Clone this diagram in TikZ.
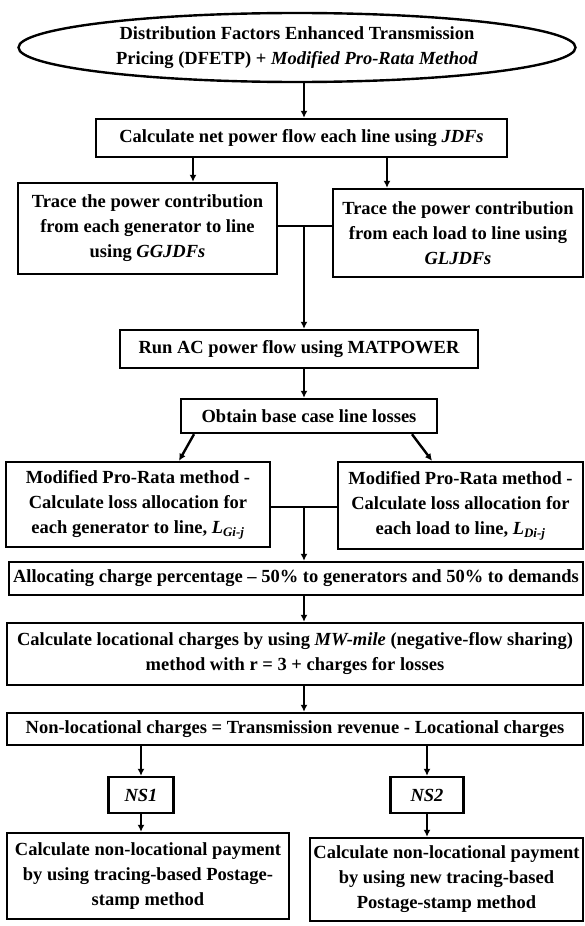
\documentclass[tikz,border=0pt]{standalone}
\usepackage{fontspec}
\setmainfont{Liberation Serif}
\usetikzlibrary{shapes.geometric,arrows.meta}
\begin{document}
\begin{tikzpicture}[x=1pt,y=-1pt,
  every node/.style={font=\fontsize{18.5}{25}\selectfont\bfseries, inner sep=0pt, align=center},
  bx/.style={draw, line width=2.4pt, rectangle},
  ln/.style={line width=2.4pt},
  arr/.style={line width=2.4pt, -{Latex[length=7pt,width=7pt]}}]
\useasboundingbox (0,0) rectangle (585,926);
% nodes
\node[draw, line width=2.4pt, ellipse, minimum width=557pt, minimum height=69pt] (ell) at (297,47.5)
  {Distribution Factors Enhanced Transmission\\ Pricing (DFETP) + \textit{Modified Pro-Rata Method}};
\node[bx, minimum width=411pt, minimum height=38pt] (box1) at (301.5,138) {Calculate net power flow each line using \textit{JDFs}};
\node[bx, minimum width=259pt, minimum height=91pt] (trL) at (147.5,228.5) {Trace the power contribution\\ from each generator to line\\ using \textit{GGJDFs}};
\node[bx, minimum width=250pt, minimum height=88pt] (trR) at (458,233) {Trace the power contribution\\ from each load to line using\\ \textit{GLJDFs}};
\node[bx, minimum width=358pt, minimum height=38pt] (runac) at (299,349) {Run AC power flow using MATPOWER};
\node[bx, minimum width=256pt, minimum height=34pt] (obt) at (309,416) {Obtain base case line losses};
\node[bx, minimum width=264pt, minimum height=85pt] (modL) at (138,504.5) {Modified Pro-Rata method -\\ Calculate loss allocation for\\ each generator to line, \textit{L}\textsubscript{\textit{Gi-j}}};
\node[bx, minimum width=245pt, minimum height=87pt] (modR) at (460.5,505.5) {Modified Pro-Rata method -\\ Calculate loss allocation for\\ each load to line, \textit{L}\textsubscript{\textit{Di-j}}};
\node[bx, minimum width=574pt, minimum height=33pt] (alloc) at (296,578.5) {Allocating charge percentage -- 50\% to generators and 50\% to demands};
\node[bx, minimum width=576pt, minimum height=62pt] (calc) at (295,654) {Calculate locational charges by using \textit{MW-mile} (negative-flow sharing)\\ method with r = 3 + charges for losses};
\node[bx, minimum width=576pt, minimum height=32pt] (nonloc) at (295,729) {Non-locational charges = Transmission revenue - Locational charges};
\node[bx, minimum width=65pt, minimum height=36pt] (ns1) at (141,795) {\textit{NS1}};
\node[bx, minimum width=73pt, minimum height=36pt] (ns2) at (427,795) {\textit{NS2}};
\node[bx, minimum width=282pt, minimum height=86pt] (finL) at (148,876) {Calculate non-locational payment\\ by using tracing-based Postage-\\ stamp method};
\node[bx, minimum width=273pt, minimum height=83pt] (finR) at (446.5,879.5) {Calculate non-locational payment\\ by using new tracing-based\\ Postage-stamp method};
% helper coordinates
\coordinate (mx) at (304,0);
\coordinate (xa) at (193,0);
\coordinate (xb) at (387,0);
\coordinate (j1) at (304,226);
\coordinate (j2) at (304,507);
\coordinate (dl1) at (194,0);
\coordinate (dl2) at (179,0);
\coordinate (dr1) at (412,0);
\coordinate (dr2) at (432,0);
% connectors
\draw[arr] (ell.south -| mx) -- (box1.north -| mx);
\draw[arr] (box1.south -| xa) -- (trL.north -| xa);
\draw[arr] (box1.south -| xb) -- (trR.north -| xb);
\draw[ln] (trL.east |- j1) -- (trR.west |- j1);
\draw[arr] (j1) -- (runac.north -| j1);
\draw[arr] (runac.south -| mx) -- (obt.north -| mx);
\draw[arr] (obt.south -| dl1) -- (modL.north -| dl2);
\draw[arr] (obt.south -| dr1) -- (modR.north -| dr2);
\draw[ln] (modL.east |- j2) -- (modR.west |- j2);
\draw[arr] (j2) -- (alloc.north -| j2);
\draw[arr] (alloc.south -| mx) -- (calc.north -| mx);
\draw[arr] (calc.south -| mx) -- (nonloc.north -| mx);
\draw[arr] (nonloc.south -| ns1) -- (ns1.north);
\draw[arr] (nonloc.south -| ns2) -- (ns2.north);
\draw[arr] (ns1.south) -- (finL.north -| ns1);
\draw[arr] (ns2.south) -- (finR.north -| ns2);
\end{tikzpicture}
\end{document}
